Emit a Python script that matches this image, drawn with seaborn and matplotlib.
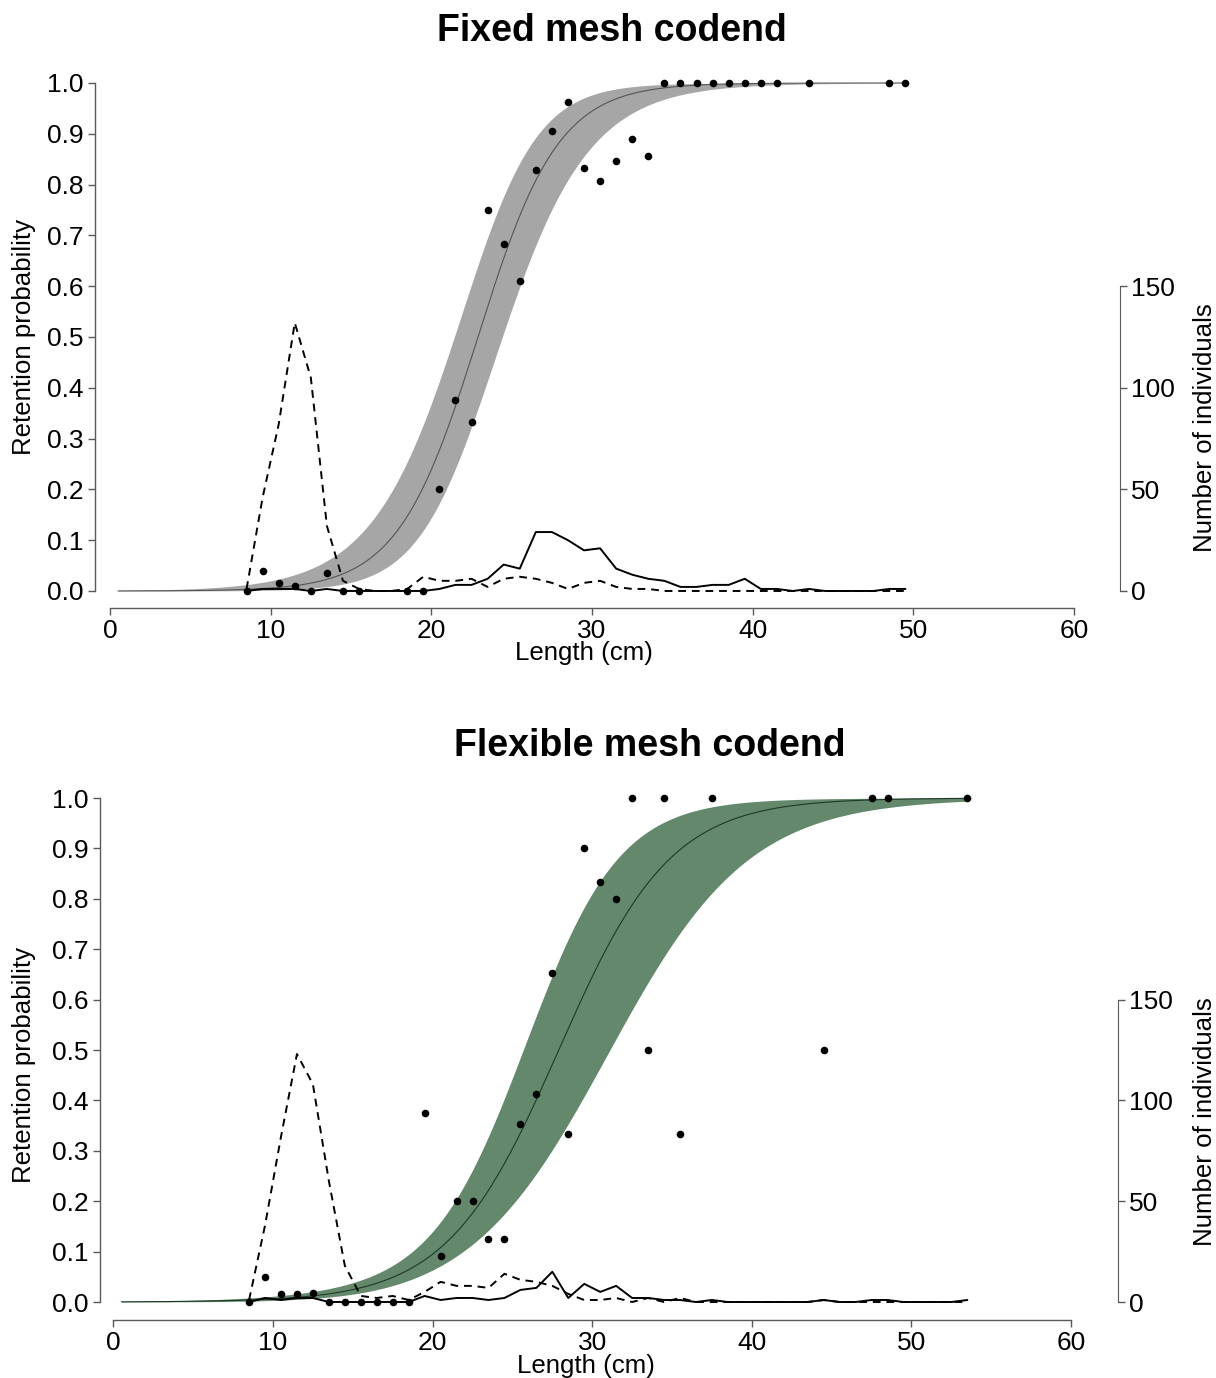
import numpy as np
import seaborn as sns
import matplotlib.pyplot as plt

# ---- length classes (cm) ----
len_fixed = np.arange(8.5, 50.0, 1.0)   # 8.5 ... 49.5
len_flex = np.arange(8.5, 54.0, 1.0)    # 8.5 ... 53.5

# numbers caught per length class: codend (solid) and cover (dashed)
codend_fixed = [0, 1, 1, 1, 0, 1, 0, 0, 0, 0, 0, 0, 1, 3, 3, 6, 13, 11, 29, 29, 25,
                20, 21, 11, 8, 6, 5, 2, 2, 3, 3, 6, 1, 1, 0, 1, 0, 0, 0, 0, 1, 1]
cover_fixed = [1, 46, 82, 132, 105, 32, 5, 1, 0, 0, 1, 7, 5, 5, 6, 2, 6, 7, 6, 4, 1,
               4, 5, 2, 1, 1, 0, 0, 0, 0, 0, 0, 0, 0, 0, 0, 0, 0, 0, 0, 0, 0]

codend_flex = [0, 2, 1, 2, 2, 0, 0, 0, 0, 0, 0, 3, 1, 2, 2, 1, 2, 6, 7, 15, 2, 9, 5,
               8, 2, 2, 1, 1, 0, 1, 0, 0, 0, 0, 0, 0, 1, 0, 0, 1, 1, 0, 0, 0, 0, 1]
cover_flex = [1, 38, 82, 123, 108, 60, 18, 3, 2, 3, 1, 5, 10, 8, 8, 7, 14, 11, 10, 8,
              4, 1, 1, 2, 0, 2, 0, 2, 0, 0, 0, 0, 0, 0, 0, 0, 1, 0, 0, 0, 0, 0, 0, 0, 0, 0]

# observed retention proportions
obs_len_fixed = [8.5, 9.5, 10.5, 11.5, 12.5, 13.5, 14.5, 15.5, 18.5, 19.5, 20.5, 21.5,
                 22.5, 23.5, 24.5, 25.5, 26.5, 27.5, 28.5, 29.5, 30.5, 31.5, 32.5, 33.5,
                 34.5, 35.5, 36.5, 37.5, 38.5, 39.5, 40.5, 41.5, 43.5, 48.5, 49.5]
obs_p_fixed = [0, 0.04, 0.015, 0.01, 0, 0.035, 0, 0, 0, 0, 0.2, 0.375, 0.333, 0.75,
               0.684, 0.611, 0.829, 0.906, 0.962, 0.833, 0.808, 0.846, 0.889, 0.857,
               1, 1, 1, 1, 1, 1, 1, 1, 1, 1, 1]

obs_len_flex = [8.5, 9.5, 10.5, 11.5, 12.5, 13.5, 14.5, 15.5, 16.5, 17.5, 18.5, 19.5,
                20.5, 21.5, 22.5, 23.5, 24.5, 25.5, 26.5, 27.5, 28.5, 29.5, 30.5, 31.5,
                32.5, 33.5, 34.5, 35.5, 37.5, 44.5, 47.5, 48.5, 53.5]
obs_p_flex = [0, 0.05, 0.016, 0.016, 0.018, 0, 0, 0, 0, 0, 0, 0.375, 0.091, 0.2, 0.2,
              0.125, 0.125, 0.353, 0.412, 0.652, 0.333, 0.9, 0.833, 0.8, 1, 0.5, 1,
              0.333, 1, 0.5, 1, 1, 1]

# fitted logistic selection curves (L50, SR) and the pointwise 95% CI in logit
# space: half-width = sqrt(a^2 + (b * (l - l0))^2)
fit_fixed = (22.9, 5.5)
ci_fixed = (0.58, 0.09, 22.5)
fit_flex = (27.9, 7.7)
ci_flex = (0.42, 0.062, 18.0)


def logit_fit(x, l50, sr):
    return 2 * np.log(3) / sr * (x - l50)


def inv_logit(z):
    return 1.0 / (1.0 + np.exp(-z))


sns.set_style("ticks")
plt.rcParams['font.family'] = ['Liberation Sans', 'DejaVu Sans']
plt.rcParams['text.color'] = 'black'
plt.rcParams['axes.labelcolor'] = 'black'
spine_col = '#5a5a5a'


def draw_panel(ax, x_max, fit, ci, band_col, line_col, lens, codend, cover,
               obs_len, obs_p, xlim, ylim, ylab_pos, rlab_pos, xlab_y):
    xs = np.linspace(0.5, x_max, 400)
    eta = logit_fit(xs, *fit)
    a, b, l0 = ci
    half = np.sqrt(a ** 2 + (b * (xs - l0)) ** 2)
    ax.fill_between(xs, inv_logit(eta - half), inv_logit(eta + half),
                    color=band_col, lw=0)
    sns.lineplot(x=xs, y=inv_logit(eta), ax=ax, color=line_col, lw=0.8)
    sns.scatterplot(x=obs_len, y=obs_p, ax=ax, color='black', s=30,
                    edgecolor='black', linewidth=0, zorder=5)

    ax.set_xlim(*xlim)
    ax.set_ylim(*ylim)
    ax.set_xticks(range(0, 61, 10))
    yt = np.round(np.arange(0, 1.01, 0.1), 1)
    ax.set_yticks(yt)
    ax.set_yticklabels([f"{v:.1f}" for v in yt])
    ax.spines['left'].set_bounds(0, 1)
    ax.spines['bottom'].set_bounds(0, 60)
    ax.spines['top'].set_visible(False)
    ax.spines['right'].set_visible(False)
    for s in ('left', 'bottom'):
        ax.spines[s].set_color(spine_col)
        ax.spines[s].set_linewidth(1.0)
    ax.tick_params(axis='both', labelsize=19, length=5, width=1.0,
                   color=spine_col, labelcolor='black', direction='out', pad=3)
    ax.set_xlabel('Length (cm)', fontsize=18.6)
    ax.set_ylabel('Retention probability', fontsize=18.6)
    ax.xaxis.set_label_coords(0.477, xlab_y)
    ax.yaxis.set_label_coords(*ylab_pos)

    ax2 = ax.twinx()
    sns.lineplot(x=lens, y=codend, ax=ax2, color='black', lw=1.4)
    sns.lineplot(x=lens, y=cover, ax=ax2, color='black', lw=1.4,
                 linestyle=(0, (4, 3)))
    ax2.set_ylim(ylim[0] * 250, ylim[1] * 250)
    ax2.set_yticks([0, 50, 100, 150])
    for s in ('left', 'top', 'bottom'):
        ax2.spines[s].set_visible(False)
    ax2.spines['right'].set_bounds(0, 150)
    ax2.spines['right'].set_color(spine_col)
    ax2.tick_params(axis='y', labelsize=19, length=5, width=1.0,
                    color=spine_col, labelcolor='black', direction='out', pad=3)
    ax2.set_ylabel('Number of individuals', fontsize=18.6)
    ax2.yaxis.set_label_coords(*rlab_pos)
    return ax2


fig = plt.figure(figsize=(12.16, 13.78), dpi=100)

ax_top = fig.add_axes([95 / 1216, 1 - 608 / 1378, 1025 / 1216, 533 / 1378])
draw_panel(ax_top, 49.5, fit_fixed, ci_fixed, '#a6a6a6', '#555555',
           len_fixed, codend_fixed, cover_fixed, obs_len_fixed, obs_p_fixed,
           (-0.93, 62.85), (-0.0335, 1.0157), (-0.0576, 0.508), (1.071, 0.338),
           -0.062)

ax_bot = fig.add_axes([100 / 1216, 1 - 1320 / 1378, 1018 / 1216, 530 / 1378])
draw_panel(ax_bot, 53.5, fit_flex, ci_flex, '#63886b', '#1e3a25',
           len_flex, codend_flex, cover_flex, obs_len_flex, obs_p_flex,
           (-0.84, 62.94), (-0.0357, 1.0159), (-0.063, 0.481), (1.074, 0.374),
           -0.064)

fig.text(612 / 1216, 1 - 31 / 1378, 'Fixed mesh codend', ha='center', va='center',
         fontsize=27, fontweight='bold')
fig.text(650 / 1216, 1 - 746 / 1378, 'Flexible mesh codend', ha='center',
         va='center', fontsize=27, fontweight='bold')

fig.savefig('out.png', dpi=100)
